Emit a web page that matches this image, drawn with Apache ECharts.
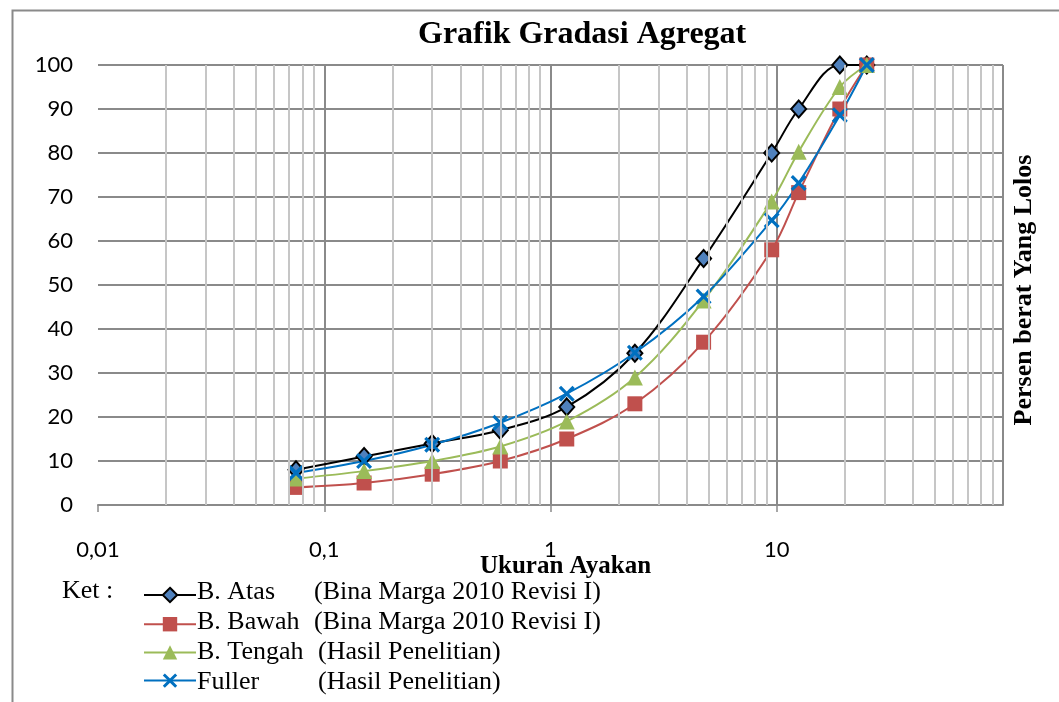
<!DOCTYPE html>
<html>
<head>
<meta charset="utf-8">
<title>Grafik Gradasi Agregat</title>
<script src="https://cdn.jsdelivr.net/npm/echarts@6/dist/echarts.min.js"></script>
<style>
  html, body { margin: 0; padding: 0; background: #fff; }
  #chart { width: 1059px; height: 702px; }
</style>
</head>
<body>
<div id="chart"></div>
<script>
// ukuran ayakan (mm)
const sieveSizes = [0.075, 0.15, 0.3, 0.6, 1.18, 2.36, 4.75, 9.5, 12.5, 19, 25]
// persen lolos
const batasAtas = [8, 11, 14, 17, 22.3, 34.5, 56, 80, 90, 100, 100]
const batasBawah = [4, 5, 7, 10, 15, 23, 37, 58, 71, 90, 100]
const batasTengah = [6, 7.7, 10, 13.3, 19, 29, 46.5, 69, 80.3, 95, 100]
const fuller = [7.3, 10, 13.7, 18.7, 25.3, 34.6, 47.4, 64.7, 73.2, 88.6, 100]

const seriesNames = ['B. Atas', 'B. Bawah', 'B. Tengah', 'Fuller']
const seriesNotes = ['(Bina Marga 2010 Revisi I)', '(Bina Marga 2010 Revisi I)', '(Hasil Penelitian)', '(Hasil Penelitian)']

const serif = '"Liberation Serif", "Times New Roman", serif'
const sans = 'Lato, "Noto Sans", sans-serif'

// garis bantu minor (2..9 tiap dekade)
const minorLines = []
;[0.01, 0.1, 1, 10].forEach(function (d) {
  for (let k = 2; k <= 9; k++) minorLines.push({ xAxis: +(d * k).toPrecision(3) })
})

function pairs(values) {
  return sieveSizes.map(function (s, i) { return [s, values[i]] })
}

const crossPath = 'path://M2,0L7,5L12,0L14,2L9,7L14,12L12,14L7,9L2,14L0,12L5,7L0,2Z'

// teks keterangan (legend dibuat dari ikon legend + teks)
const legendTop = 581
const rowGap = 30
const legendTexts = []
seriesNames.forEach(function (name, i) {
  const y = legendTop + 11 + i * rowGap
  legendTexts.push({
    type: 'text', x: 197, y: y,
    style: { text: name, font: '26px ' + serif, fill: '#000', verticalAlign: 'middle' }
  })
  legendTexts.push({
    type: 'text', x: i < 2 ? 314 : 318, y: y,
    style: { text: seriesNotes[i], font: '26px ' + serif, fill: '#000', verticalAlign: 'middle' }
  })
})

const chart = echarts.init(document.getElementById('chart'))
const option = {
  animation: false,
  backgroundColor: '#fff',
  title: {
    text: 'Grafik Gradasi Agregat',
    left: 413,
    top: 14,
    textStyle: { fontFamily: serif, fontWeight: 'bold', fontSize: 32, color: '#000' }
  },
  grid: { left: 98, right: 56, top: 65, bottom: 197 },
  xAxis: {
    type: 'log',
    logBase: 10,
    min: 0.01,
    max: 100,
    axisLine: { lineStyle: { color: '#8a8a8a', width: 2 } },
    axisTick: { show: true, length: 7, lineStyle: { color: '#8a8a8a', width: 1.5 } },
    axisLabel: {
      margin: 34,
      showMaxLabel: false,
      color: '#000',
      fontFamily: sans,
      fontSize: 22,
      formatter: function (v) { return String(v).replace('.', ',') }
    },
    splitLine: { show: true, showMinLine: false, lineStyle: { color: '#8a8a8a', width: 2 } }
  },
  yAxis: {
    type: 'value',
    min: 0,
    max: 100,
    interval: 10,
    axisLine: { show: false },
    axisTick: { show: false },
    axisLabel: { margin: 25, color: '#000', fontFamily: sans, fontSize: 22 },
    splitLine: { lineStyle: { color: '#8a8a8a', width: 2 } }
  },
  legend: {
    orient: 'vertical',
    left: 138,
    top: legendTop,
    itemWidth: 52,
    itemHeight: 18,
    itemGap: 12,
    data: seriesNames,
    formatter: function () { return '' },
    textStyle: { fontSize: 1 }
  },
  graphic: [
    {
      type: 'rect',
      left: 10,
      top: 8,
      shape: { width: 1100, height: 800 },
      style: { fill: 'none', stroke: '#8a8a8a', lineWidth: 2 },
      silent: true
    },
    {
      type: 'text',
      x: 480,
      y: 567,
      style: { text: 'Ukuran Ayakan', font: 'bold 25px ' + serif, fill: '#000', verticalAlign: 'middle' }
    },
    {
      type: 'text',
      x: 62,
      y: 591,
      style: { text: 'Ket :', font: '26px ' + serif, fill: '#000', verticalAlign: 'middle' }
    },
    {
      type: 'text',
      x: 1024,
      y: 290,
      rotation: Math.PI / 2,
      style: {
        text: 'Persen berat Yang Lolos',
        font: 'bold 26px ' + serif,
        fill: '#000',
        align: 'center',
        verticalAlign: 'middle'
      }
    }
  ].concat(legendTexts),
  series: [
    {
      name: 'grid-minor',
      type: 'line',
      data: [],
      silent: true,
      z: 1,
      markLine: {
        silent: true,
        symbol: ['none', 'none'],
        label: { show: false },
        animation: false,
        lineStyle: { type: 'solid', color: '#c6c6c6', width: 2 },
        emphasis: { disabled: true },
        data: minorLines
      }
    },
    {
      name: seriesNames[0],
      type: 'line',
      smooth: 0.35,
      data: pairs(batasAtas),
      symbol: 'diamond',
      symbolSize: [15, 17],
      lineStyle: { color: '#000', width: 2 },
      itemStyle: { color: '#4f81bd', borderColor: '#000', borderWidth: 2 },
      z: 3
    },
    {
      name: seriesNames[1],
      type: 'line',
      smooth: 0.35,
      data: pairs(batasBawah),
      symbol: 'rect',
      symbolSize: 15,
      lineStyle: { color: '#c0504d', width: 2 },
      itemStyle: { color: '#c0504d' },
      z: 3
    },
    {
      name: seriesNames[2],
      type: 'line',
      smooth: 0.35,
      data: pairs(batasTengah),
      symbol: 'triangle',
      symbolSize: 16,
      lineStyle: { color: '#9bbb59', width: 2 },
      itemStyle: { color: '#9bbb59' },
      z: 3
    },
    {
      name: seriesNames[3],
      type: 'line',
      smooth: 0.35,
      data: pairs(fuller),
      symbol: crossPath,
      symbolSize: 16,
      lineStyle: { color: '#0070c0', width: 2 },
      itemStyle: { color: '#0070c0' },
      z: 3
    }
  ]
}
chart.setOption(option)
window.addEventListener('resize', function () {
  chart.resize()
})
</script>
</body>
</html>
